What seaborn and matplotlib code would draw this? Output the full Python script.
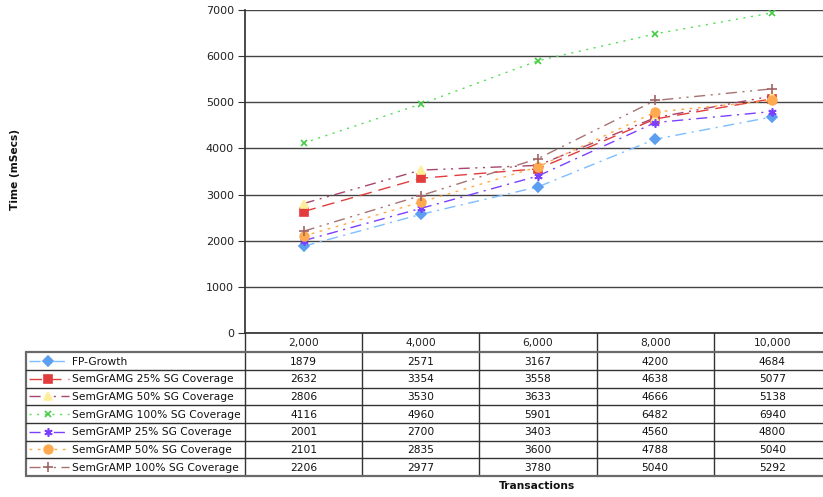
import matplotlib
matplotlib.use("Agg")
import matplotlib.pyplot as plt
import matplotlib.transforms as mtransforms
import seaborn as sns
import pandas as pd

sns.set_theme(style="white")
plt.rcParams["font.family"] = ["DejaVu Sans"]

# ---- data ----
transactions = ["2,000", "4,000", "6,000", "8,000", "10,000"]
series_names = [
    "FP-Growth",
    "SemGrAMG 25% SG Coverage",
    "SemGrAMG 50% SG Coverage",
    "SemGrAMG 100% SG Coverage",
    "SemGrAMP 25% SG Coverage",
    "SemGrAMP 50% SG Coverage",
    "SemGrAMP 100% SG Coverage",
]
fp_growth = [1879, 2571, 3167, 4200, 4684]
semgramg_25 = [2632, 3354, 3558, 4638, 5077]
semgramg_50 = [2806, 3530, 3633, 4666, 5138]
semgramg_100 = [4116, 4960, 5901, 6482, 6940]
semgramp_25 = [2001, 2700, 3403, 4560, 4800]
semgramp_50 = [2101, 2835, 3600, 4788, 5040]
semgramp_100 = [2206, 2977, 3780, 5040, 5292]
values = [fp_growth, semgramg_25, semgramg_50, semgramg_100,
          semgramp_25, semgramp_50, semgramp_100]

# ---- styles ----
styles = [
    dict(color="#7DBDFF", mfc="#5C9EF0", mec="#5C9EF0", marker="D", ms=4.8, ls=(0, (8, 4, 1.5, 4))),
    dict(color="#E23C3C", mfc="#E23C3C", mec="#E23C3C", marker="s", ms=5.5, ls=(0, (9, 5))),
    dict(color="#A8456E", mfc="#FFEE99", mec="#FFEE99", marker="^", ms=6.3, ls=(0, (8, 4, 1.5, 4, 1.5, 4))),
    dict(color="#55DD55", mfc="#55DD55", mec="#44CC44", marker="x", ms=5, ls=(0, (1.5, 4))),
    dict(color="#7B3FFF", mfc="#7B3FFF", mec="#7B3FFF", marker=(6, 2, 0), ms=6, ls=(0, (8, 4, 1.5, 4))),
    dict(color="#FFAA44", mfc="#FFAA50", mec="#FFAA50", marker="o", ms=6.3, ls=(0, (2, 4))),
    dict(color="#A87272", mfc="#A06464", mec="#A06464", marker="+", ms=6.5, ls=(0, (8, 4, 1.5, 4, 1.5, 4))),
]

W, H = 823, 497
fig = plt.figure(figsize=(W / 100, H / 100), dpi=100)

# plot area in pixel coordinates
px_left, px_right, px_top, px_bottom = 245, 831, 10, 333
ax = fig.add_axes([px_left / W, 1 - px_bottom / H,
                   (px_right - px_left) / W, (px_bottom - px_top) / H])

positions = list(range(len(transactions)))
for name, vals, st in zip(series_names, values, styles):
    df = pd.DataFrame({"pos": positions, "time": vals})
    sns.lineplot(data=df, x="pos", y="time", ax=ax, color=st["color"],
                 linewidth=1.0, linestyle=st["ls"], marker=st["marker"],
                 markersize=st["ms"], markerfacecolor=st["mfc"],
                 markeredgecolor=st["mec"], markeredgewidth=1.2, legend=False)

ax.set_xlim(-0.5, len(transactions) - 0.5)
ax.set_ylim(0, 7000)
ax.set_yticks(range(0, 7001, 1000))
ax.set_yticklabels([str(v) for v in range(0, 7001, 1000)], fontsize=8, color="#222222")
ax.set_xticks([])
ax.set_xlabel("")
ax.set_ylabel("")
ax.grid(axis="y", color="#444444", linewidth=1.0)
ax.set_axisbelow(True)
for side in ["top", "right"]:
    ax.spines[side].set_visible(False)
ax.spines["left"].set_color("#333333")
ax.spines["bottom"].set_color("#333333")
ax.tick_params(axis="y", length=5, width=0.8, color="#333333", left=True, pad=3)

# overlay in pixel coordinates for the data table
ov = fig.add_axes([0, 0, 1, 1], facecolor="none")
ov.set_xlim(0, W)
ov.set_ylim(H, 0)
ov.axis("off")
bt = mtransforms.blended_transform_factory(ax.transData, ov.transData)

row_top = 352.3
row_h = 17.65
n_rows = len(series_names)
table_bottom = row_top + n_rows * row_h
label_left = 26
fs = 7.7

# header row with category labels
for i, lab in enumerate(transactions):
    ov.text(i, 343, lab, transform=bt, ha="center", va="center", fontsize=fs, color="#222222")

# vertical separators
for i in range(len(transactions) + 1):
    ov.plot([i - 0.5, i - 0.5], [px_bottom, table_bottom], transform=bt,
            color="#333333", lw=1.0, clip_on=False)
ov.plot([label_left, label_left], [row_top, table_bottom], color="#6a6a6a", lw=1.6)

# horizontal rules
for r in range(n_rows + 1):
    y = row_top + r * row_h
    outer = r in (0, n_rows)
    ov.plot([label_left, W + 10], [y, y], color="#6a6a6a" if outer else "#333333",
            lw=1.6 if outer else 1.0, clip_on=False)

# row contents: legend key, series name, values
for r, (name, vals, st) in enumerate(zip(series_names, values, styles)):
    yc = row_top + (r + 0.5) * row_h
    ov.plot([29, 69], [yc, yc], color=st["color"], lw=1.0, linestyle=st["ls"])
    ov.plot([48], [yc], marker=st["marker"], ms=st["ms"], mfc=st["mfc"],
            mec=st["mec"], mew=1.2, linestyle="none")
    ov.text(72, yc + 0.5, name, ha="left", va="center", fontsize=fs, color="#111111")
    for i, v in enumerate(vals):
        ov.text(i, yc + 0.5, str(v), transform=bt, ha="center", va="center",
                fontsize=fs, color="#111111")

# axis titles
ov.text(15, 170, "Time (mSecs)", rotation=90, ha="center", va="center",
        fontsize=fs, fontweight="bold", color="#111111")
ov.text(537, 486, "Transactions", ha="center", va="center",
        fontsize=fs, fontweight="bold", color="#111111")

fig.savefig("out.png", dpi=100)
